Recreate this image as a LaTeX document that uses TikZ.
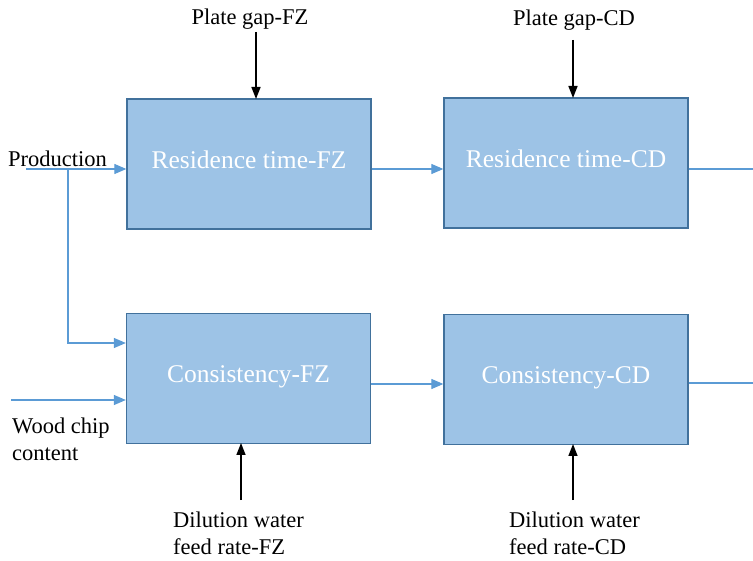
\documentclass[tikz,border=0pt]{standalone}
\usepackage{fontspec}
\setmainfont{Liberation Serif}
\usetikzlibrary{arrows.meta}
\definecolor{boxfill}{HTML}{9DC3E6}
\definecolor{boxline}{HTML}{41719C}
\definecolor{flow}{HTML}{5B9BD5}
\begin{document}
\begin{tikzpicture}[x=1pt,y=-1pt,
  blk/.style={draw=boxline,line width=1.3pt,fill=boxfill,minimum width=244pt,minimum height=130pt,inner sep=0pt,text=white,font=\fontsize{25.5}{28}\selectfont},
  lbl/.style={inner sep=0pt,font=\fontsize{22.5}{27}\selectfont,align=left},
  bflow/.style={draw=flow,line width=1.2pt,-{Triangle[length=12pt,width=10pt]}},
  kin/.style={draw=black,line width=1.5pt,-{Triangle[length=12pt,width=9pt]}}]
\clip (0,0) rectangle (753,561);
\useasboundingbox (0,0) rectangle (753,561);
\node[blk] (rfz) at (249,164) {\raisebox{9pt}{Residence time-FZ}};
\node[blk] (rcd) at (566,163) {\raisebox{9pt}{Residence time-CD}};
\node[blk] (cfz) at (248.5,378.5) {\raisebox{9pt}{Consistency-FZ}};
\node[blk] (ccd) at (566,379.5) {\raisebox{9pt}{Consistency-CD}};
% labels
\node[lbl,anchor=base] (pgfz) at (250,25) {Plate gap-FZ};
\node[lbl,anchor=base] (pgcd) at (574,26) {Plate gap-CD};
\node[lbl,anchor=base west] (prod) at (8,167) {Production};
\node[lbl,anchor=north west] (wood) at (12,418) {Wood chip\\content};
\node[lbl,anchor=north west] (dfz) at (173,512) {Dilution water\\feed rate-FZ};
\node[lbl,anchor=north west] (dcd) at (509,512) {Dilution water\\feed rate-CD};
% coordinates
\coordinate (pin) at (26,169);
\coordinate (br) at (68,169);
\coordinate (wood0) at (11,400);
\coordinate (outr) at (766,169);
\coordinate (outc) at (766,383);
% flows
\draw[bflow] (pin) -- (pin -| rfz.west);
\draw[bflow] (br) -- (68,343) -- (cfz.west |- 0,343);
\draw[bflow] (wood0) -- (wood0 -| cfz.west);
\draw[bflow] (rfz.east |- 0,169) -- (rcd.west |- 0,169);
\draw[bflow] (cfz.east |- 0,384) -- (ccd.west |- 0,384);
\draw[bflow] (rcd.east |- outr) -- (outr);
\draw[bflow] (ccd.east |- outc) -- (outc);
% inputs
\draw[kin] (256,32) -- (256,99);
\draw[kin] (573,40) -- (573,98);
\draw[kin] (241,500) -- (241,443);
\draw[kin] (573,500) -- (573,444);
\end{tikzpicture}
\end{document}
